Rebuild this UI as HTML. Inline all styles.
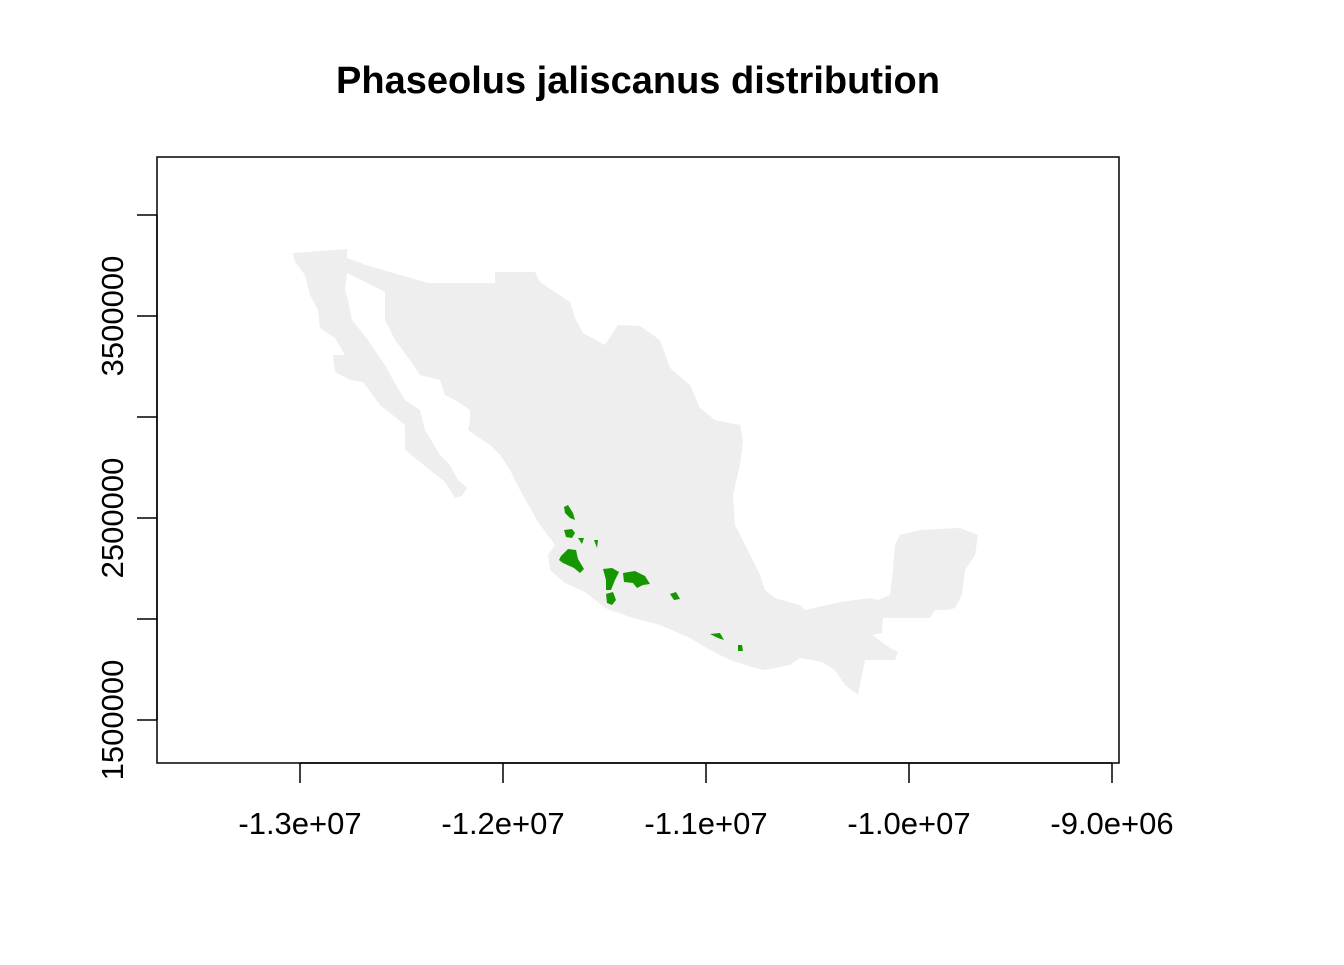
<!DOCTYPE html>
<html><head><meta charset="utf-8"><style>
body{margin:0;background:#fff;}
svg text{font-family:"Liberation Sans",Arial,sans-serif;}
</style></head><body>
<svg id="chart" width="1344" height="960" viewBox="0 0 1344 960" xmlns="http://www.w3.org/2000/svg">
<rect width="1344" height="960" fill="#fff"/>
<text x="638" y="93" text-anchor="middle" font-size="38" font-weight="bold">Phaseolus jaliscanus distribution</text>
<g id="map">
<polygon fill="#eeeeee" points="293,253 347,249 347,258 366,265 428,283 495,283 495,272 535,272 540,282 570,302 575,318 583,333 605,345 618,325 640,326 660,340 670,368 690,385 700,408 715,420 740,425 743,440 740,465 733,495 735,525 745,545 760,575 765,590 775,598 800,605 805,610 840,602 870,598 878,600 890,595 893,570 895,545 900,535 920,530 960,528 978,535 975,555 965,570 962,595 955,608 948,610 935,610 930,618 883,618 882,633 872,635 890,648 898,652 895,660 865,660 858,695 845,685 835,670 822,662 800,658 790,665 765,670 755,668 730,660 710,650 690,638 660,625 630,617 605,608 585,592 565,583 550,570 548,555 555,545 538,522 520,490 510,470 500,455 490,445 475,435 468,430 470,420 470,410 455,400 445,395 440,380 420,375 410,360 395,340 385,320 385,292 347,273 345,290 348,300 352,320 368,340 378,355 385,365 393,380 405,400 420,410 425,430 440,455 450,465 458,480 467,488 462,496 455,498 445,482 420,462 405,450 405,425 380,405 363,382 350,380 335,372 333,355 345,355 335,338 320,328 318,310 310,295 305,275 295,262"/>
<g fill="#169600">
<polygon points="561,556 568,549 576,550 578,559 584,569 580,573 574,568 563,563 559,560"/>
<polygon points="564,530 572,529 575,533 572,538 566,537"/>
<polygon points="564,507 568,505 573,513 575,520 570,518 565,513"/>
<polygon points="603,569 612,568 619,572 615,580 611,590 606,590 606,580"/>
<polygon points="623,573 635,571 645,576 650,584 643,585 637,588 633,583 624,582"/>
<polygon points="606,594 613,592 616,600 612,605 607,603"/>
<polygon points="670,594 676,592 680,599 674,600"/>
<polygon points="710,634 720,633 724,640 718,638"/>
<polygon points="738,645 742,645 743,651 738,651"/>
<polygon points="578,538 584,538 582,544"/>
<polygon points="594,540 598,540 597,548"/>
</g>
</g>
<rect x="157" y="157" width="962" height="606" fill="none" stroke="#000" stroke-width="1.5"/>
<g id="axes"></g>
</svg>
<script>
const xTicks = [-13000000, -12000000, -11000000, -10000000, -9000000];
const xLabels = ["-1.3e+07", "-1.2e+07", "-1.1e+07", "-1.0e+07", "-9.0e+06"];
const yTicks = [1500000, 2000000, 2500000, 3000000, 3500000, 4000000];
const yLabels = ["1500000", "", "2500000", "", "3500000", ""];
const xs = v => 300 + (v + 13000000) * 203 / 1000000;
const ys = v => 720 - (v - 1500000) * 202 / 1000000;
const ns = "http://www.w3.org/2000/svg";
const g = document.getElementById('axes');
function mk(t, a) { const e = document.createElementNS(ns, t); for (const k in a) e.setAttribute(k, a[k]); g.appendChild(e); return e; }
const xl = mk('line', {x1: xs(xTicks[0]), x2: xs(xTicks[xTicks.length-1]), y1: 763, y2: 763, stroke: '#000', 'stroke-width': 1.5});


xTicks.forEach((v, i) => {
  const t = mk('line', {x1: xs(v), x2: xs(v), y1: 763, y2: 783, stroke: '#000', 'stroke-width': 1.5});
  
  
  const l = mk('text', {x: xs(v), y: 834, 'text-anchor': 'middle', 'font-size': 31});
  
  
  l.textContent = xLabels[i];
});
const yl = mk('line', {x1: 157, x2: 157, y1: ys(yTicks[0]), y2: ys(yTicks[yTicks.length-1]), stroke: '#000', 'stroke-width': 1.5});


yTicks.forEach((v, i) => {
  const t = mk('line', {x1: 137, x2: 157, y1: ys(v), y2: ys(v), stroke: '#000', 'stroke-width': 1.5});
  
  
  if (yLabels[i]) {
    const l = mk('text', {x: 0, y: 0, 'text-anchor': 'middle', 'font-size': 31, transform: `translate(123,${ys(v)}) rotate(-90)`});
    
    
    l.textContent = yLabels[i];
  }
});
</script>
</body></html>
